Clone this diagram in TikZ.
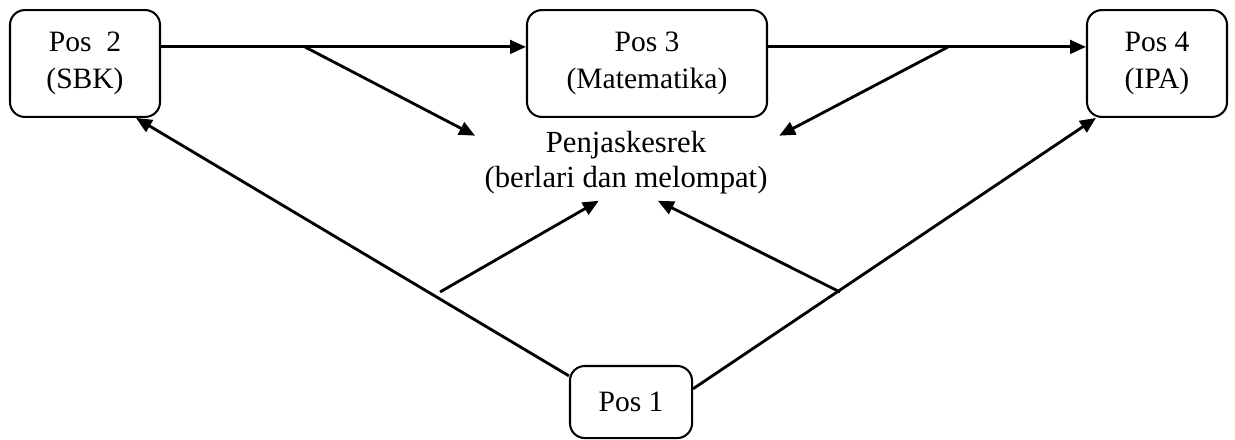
\documentclass[tikz,border=0pt]{standalone}
\usepackage{fontspec}
\setmainfont{Liberation Serif}
\usetikzlibrary{arrows.meta}
\begin{document}
\begin{tikzpicture}[x=0.44pt,y=-0.44pt,
        posbox/.style={draw,line width=0.9pt,rounded corners=6.5pt,align=center,
            font=\fontsize{13}{16.3}\selectfont,minimum height=47pt,inner sep=2pt},
        arr/.style={line width=1.25pt,-{Triangle[length=7pt,width=6pt]}}]
        \useasboundingbox (0,0) rectangle (1235,439);
        \node [posbox,minimum width=66pt] (p2) at (85,63.5) {Pos~~2\\(SBK)};
        \node [posbox,minimum width=105.6pt] (p3) at (647,63.5) {Pos 3\\(Matematika)};
        \node [posbox,minimum width=61.6pt] (p4) at (1157,63.5) {Pos 4\\(IPA)};
        \node [posbox,minimum width=53.7pt,minimum height=31.7pt] (p1) at (631,402) {Pos 1};
        \node [align=center,inner sep=0pt,font=\fontsize{13.5}{15.4}\selectfont] (pj) at (626,163)
            {Penjaskesrek\\(berlari dan melompat)};
        \coordinate (b1) at (305,47);
        \coordinate (b2) at (948,47);
        \coordinate (b3) at (440,292);
        \coordinate (b4) at (840,292);
        \draw [arr] ([yshift=7.3pt]p2.east) -- ([yshift=7.3pt]p3.west);
        \draw [arr] ([yshift=7.3pt]p3.east) -- ([yshift=7.3pt]p4.west);
        \draw [arr] ([yshift=-4.8pt]p1.north west) -- ([xshift=-11pt]p2.south east);
        \draw [arr] ([yshift=-10.5pt]p1.north east) -- ([xshift=4.4pt]p4.south west);
        \draw [arr] (b1) -- ([shift={(-4pt,-2pt)}]pj.north west);
        \draw [arr] (b2) -- ([shift={(5pt,-2pt)}]pj.north east);
        \draw [arr] (b3) -- ([shift={(-12pt,-2.6pt)}]pj.south);
        \draw [arr] (b4) -- ([shift={(14pt,-2.6pt)}]pj.south);
\end{tikzpicture}
\end{document}
